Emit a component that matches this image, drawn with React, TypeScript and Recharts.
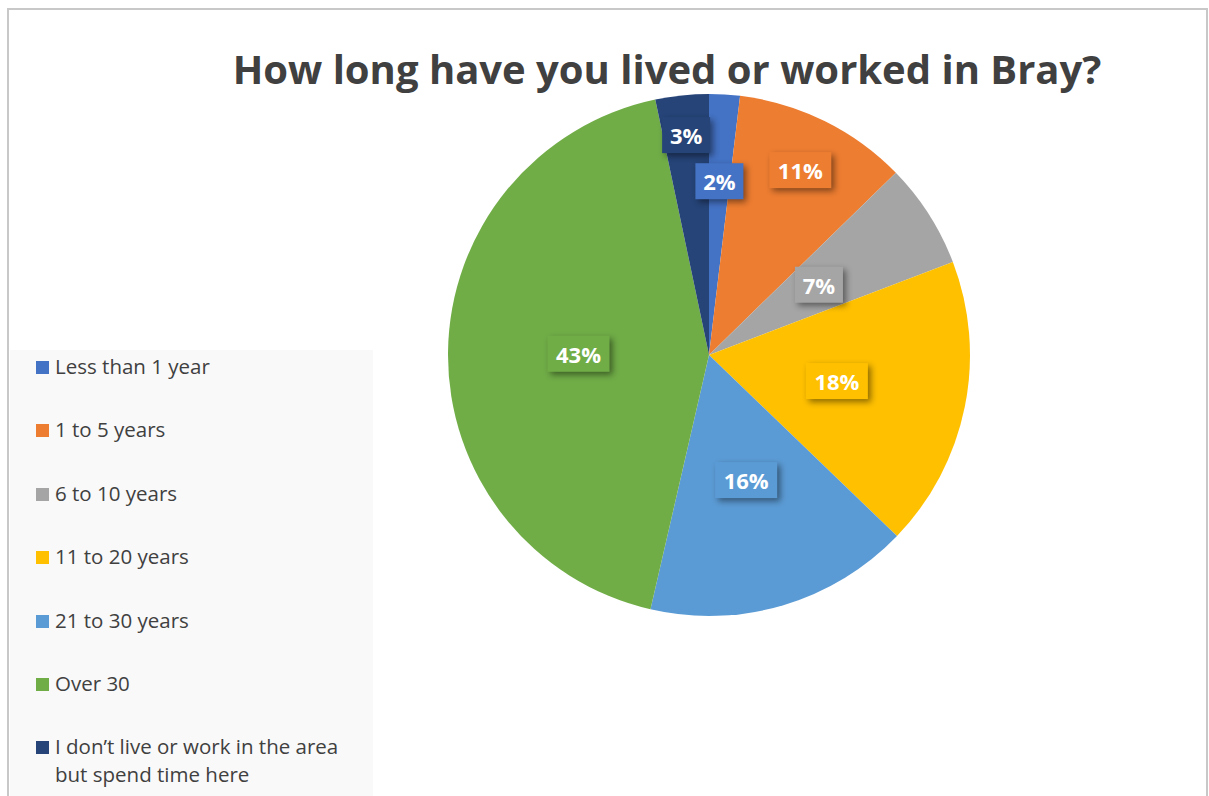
import React from 'react';
import { PieChart, Pie, Cell, Legend } from 'recharts';

const categories = [
  'Less than 1 year',
  '1 to 5 years',
  '6 to 10 years',
  '11 to 20 years',
  '21 to 30 years',
  'Over 30',
  'I don\u2019t live or work in the area but spend time here',
];
const shares = [1.9, 10.8, 6.5, 18.0, 16.4, 43.1, 3.3];
const colors = ['#4472C4', '#ED7D31', '#A5A5A5', '#FFC000', '#5B9BD5', '#70AD47', '#264478'];
const labelRadius = [0.667, 0.79, 0.5, 0.5, 0.5, 0.5, 0.847];

const data = categories.map((name, i) => ({ name, value: shares[i] }));

const FONT = '"Open Sans", "Noto Sans", sans-serif';
const RAD = Math.PI / 180;

const renderLabel = (props: any) => {
  const { cx, cy, midAngle, outerRadius, index, percent } = props;
  const r = outerRadius * labelRadius[index];
  const x = cx + r * Math.cos(-midAngle * RAD);
  const y = cy + r * Math.sin(-midAngle * RAD);
  const text = `${Math.round(percent * 100)}%`;
  const w = 20 + 14 * text.length;
  const h = 36;
  return (
    <g key={`lbl-${index}`}>
      <rect
        x={x - w / 2}
        y={y - h / 2}
        width={w}
        height={h}
        fill={colors[index]}
        style={{ filter: 'drop-shadow(3px 3px 3px rgba(0,0,0,0.45))' }}
      />
      <text
        x={x}
        y={y}
        textAnchor="middle"
        dominantBaseline="central"
        fill="#ffffff"
        fontFamily={FONT}
        fontWeight={700}
        fontSize={22}
      >
        {text}
      </text>
    </g>
  );
};

const renderLegend = () => {
  return (
    <div style={{ position: 'relative', width: 363, height: 446, background: '#f9f9f9', fontFamily: FONT }}>
      {categories.map((name, i) => (
        <div
          key={name}
          style={{ position: 'absolute', left: 26, top: 17 + i * 63.4 - 14, display: 'flex', alignItems: 'flex-start' }}
        >
          <div style={{ width: 13, height: 13, background: colors[i], marginTop: 8, marginRight: 6 }} />
          <div style={{ width: 296, fontSize: 20.5, lineHeight: '28px', color: '#404040', marginTop: -1 }}>{name}</div>
        </div>
      ))}
    </div>
  );
};

export default function App() {
  return (
    <div style={{ position: 'absolute', left: 0, top: 0, width: 1209, height: 796, overflow: 'hidden', background: '#fff' }}>
      <style>{`.recharts-pie-sectors { filter: drop-shadow(0px 0px 10px rgba(0,0,0,0.18)); }`}</style>
      <div
        style={{
          position: 'absolute',
          left: 7,
          top: 8,
          width: 1201,
          height: 820,
          border: '2px solid #c8c8c8',
          boxSizing: 'border-box',
        }}
      />
      <div
        style={{
          position: 'absolute',
          left: 0,
          top: 42,
          width: 1334,
          textAlign: 'center',
          fontFamily: FONT,
          fontWeight: 700,
          fontSize: 40,
          color: '#404040',
          lineHeight: '54px',
          whiteSpace: 'nowrap',
        }}
      >
        How long have you lived or worked in Bray?
      </div>
      <div style={{ position: 'absolute', left: 0, top: 0 }}>
        <PieChart width={1209} height={796} margin={{ top: 0, right: 0, bottom: 0, left: 0 }}>
          <Pie
            data={data}
            dataKey="value"
            nameKey="name"
            cx={709}
            cy={355}
            outerRadius={261}
            startAngle={90}
            endAngle={-270}
            stroke="none"
            label={renderLabel}
            labelLine={false}
            isAnimationActive={false}
          >
            {data.map((d, i) => (
              <Cell key={d.name} fill={colors[i]} />
            ))}
          </Pie>
          <Legend
            content={renderLegend}
            wrapperStyle={{ position: 'absolute', left: 10, top: 350, width: 363, height: 446 }}
          />
        </PieChart>
      </div>
    </div>
  );
}
